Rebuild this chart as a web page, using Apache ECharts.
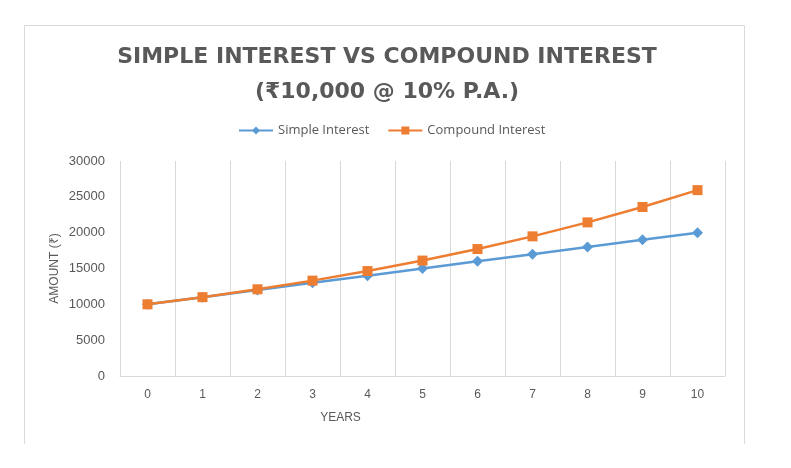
<!DOCTYPE html>
<html>
<head>
<meta charset="utf-8">
<script src="https://cdn.jsdelivr.net/npm/echarts@6/dist/echarts.min.js"></script>
<style>
html,body{margin:0;padding:0;background:#fff;}
#main{width:791px;height:468px;}
</style>
</head>
<body>
<div id="main"></div>
<script>
const years = ['0','1','2','3','4','5','6','7','8','9','10'];
const simpleInterest = [10000, 11000, 12000, 13000, 14000, 15000, 16000, 17000, 18000, 19000, 20000];
const compoundInterest = [10000, 11000, 12100, 13310, 14641, 16105, 17716, 19487, 21436, 23579, 25937];
const yTicks = { min: 0, max: 30000, interval: 5000 };

const chart = echarts.init(document.getElementById('main'));
const txt = '#595959';
const font = '"Liberation Sans", Arial, sans-serif';
chart.setOption({
  animation: false,
  backgroundColor: '#fff',
  title: {
    text: 'SIMPLE INTEREST VS COMPOUND INTEREST\n(₹10,000 @ 10% P.A.)',
    left: 382, top: 35,
    textAlign: 'center',
    textStyle: { color: txt, fontSize: 22, fontWeight: 'bold', fontFamily: '"DejaVu Sans", sans-serif', lineHeight: 35 }
  },
  legend: {
    top: 119, left: 233,
    itemWidth: 34, itemHeight: 10, itemGap: 18,
    textStyle: { color: txt, fontSize: 13, fontFamily: '"Open Sans", sans-serif' },
    data: ['Simple Interest', 'Compound Interest']
  },
  grid: { left: 120, right: 66, top: 161, bottom: 92, containLabel: false },
  xAxis: {
    type: 'category',
    data: years,
    boundaryGap: true,
    name: 'YEARS',
    nameLocation: 'middle',
    nameGap: 36,
    nameMoveOverlap: false,
    nameTextStyle: { color: txt, fontSize: 12, fontFamily: font, padding: [0, 164, 0, 0] },
    axisLine: { lineStyle: { color: '#d9d9d9', width: 1 } },
    axisTick: { show: false },
    axisLabel: { color: txt, fontSize: 12, fontFamily: font, margin: 13 },
    splitLine: { show: true, lineStyle: { color: '#d9d9d9', width: 1 } }
  },
  yAxis: {
    type: 'value',
    min: yTicks.min, max: yTicks.max, interval: yTicks.interval,
    name: 'AMOUNT (₹)',
    nameLocation: 'middle',
    nameGap: 59,
    nameMoveOverlap: false,
    nameTextStyle: { color: txt, fontSize: 12, fontFamily: font },
    axisLine: { show: false },
    axisTick: { show: false },
    axisLabel: { color: txt, fontSize: 13, fontFamily: font, margin: 15, formatter: v => String(v) },
    splitLine: { show: false }
  },
  series: [
    {
      name: 'Simple Interest', type: 'line', data: simpleInterest,
      symbol: 'diamond', symbolSize: 11,
      itemStyle: { color: '#5B9BD5' },
      lineStyle: { color: '#5B9BD5', width: 2.5 },
      z: 2
    },
    {
      name: 'Compound Interest', type: 'line', data: compoundInterest,
      symbol: 'rect', symbolSize: 10,
      itemStyle: { color: '#ED7D31' },
      lineStyle: { color: '#ED7D31', width: 2.5 },
      z: 3
    }
  ],
  graphic: [
    {
      type: 'polyline', silent: true,
      shape: { points: [[24.5, 444], [24.5, 25.5], [744.5, 25.5], [744.5, 444]] },
      style: { stroke: '#d9d9d9', lineWidth: 1, fill: null }
    }
  ]
});
</script>
</body>
</html>
